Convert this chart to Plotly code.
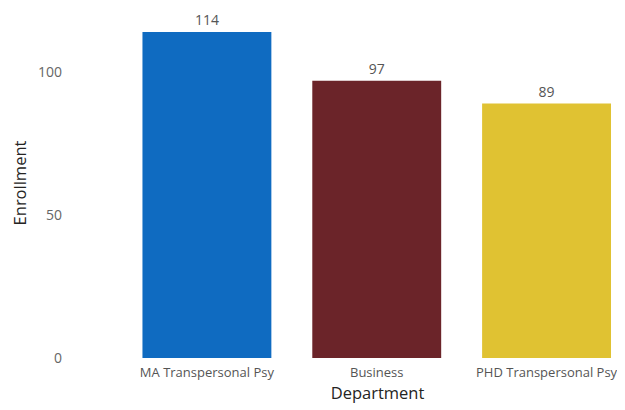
import plotly.graph_objects as go

departments = ["MA Transpersonal Psy", "Business", "PHD Transpersonal Psy"]
enrollment = [114, 97, 89]
colors = ["#0F6BC1", "#6B2429", "#E0C232"]
y_ticks = [0, 50, 100]

fig = go.Figure(go.Bar(
    x=departments, y=enrollment,
    marker=dict(color=colors, line=dict(width=0)),
    text=[str(v) for v in enrollment], textposition="outside",
    textfont=dict(family="Open Sans", size=14, color="#555555"),
    cliponaxis=False,
))

fig.update_layout(
    width=625, height=410,
    margin=dict(l=113.5, r=0, t=0, b=60),
    paper_bgcolor="white", plot_bgcolor="white",
    bargap=0.241,
    showlegend=False,
    font=dict(family="Open Sans", color="#666666"),
    xaxis=dict(range=[-0.5, 2.509], showgrid=False, zeroline=False, showline=False,
               tickfont=dict(size=13, color="#555555"), ticks="", ticklabelstandoff=5,
               title=dict(text="Department", font=dict(size=16.5, color="#252423"), standoff=4)),
    yaxis=dict(range=[0, 122.4], tickvals=y_ticks, showgrid=False, zeroline=False, showline=False,
               tickfont=dict(size=14, color="#666666"), ticks="", ticklabelstandoff=59,
               title=dict(text="Enrollment", font=dict(size=16.5, color="#252423"), standoff=18)),
    annotations=[dict(text="Enrollment by Department and Program", xref="paper", yref="paper",
                      x=0.0225, y=-0.13, xanchor="left", yanchor="top", showarrow=False,
                      font=dict(size=18, color="#444444"))],
)

fig.write_html("out.html")
